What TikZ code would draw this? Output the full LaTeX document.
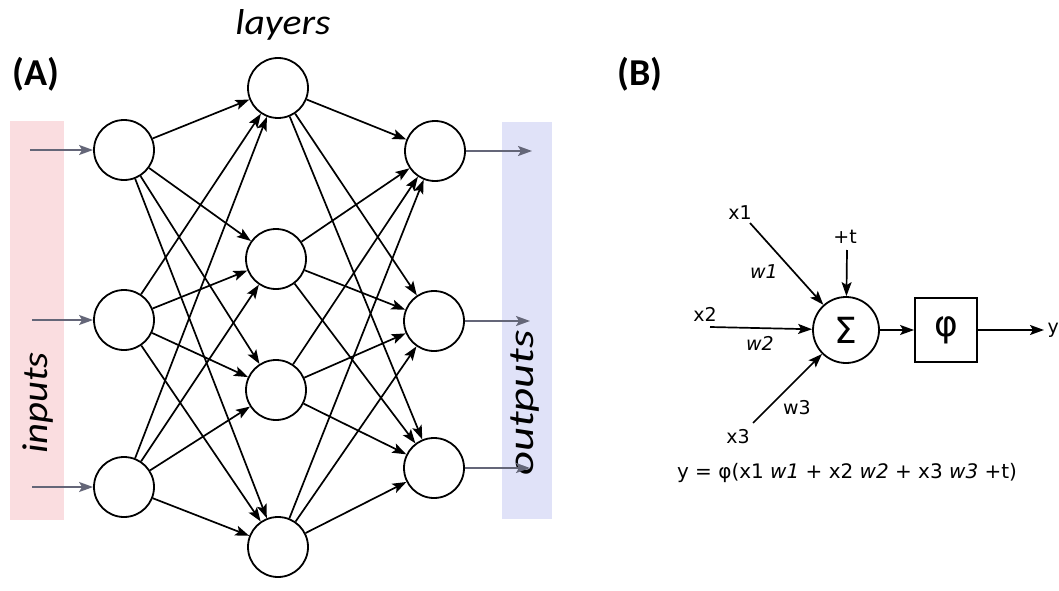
\documentclass[tikz,border=0pt]{standalone}
\usepackage{fontspec}
\setmainfont{DejaVu Sans}
\newfontfamily\labelfont{Carlito}
\usetikzlibrary{arrows.meta}
\definecolor{inbar}{RGB}{250,221,224}
\definecolor{outbar}{RGB}{224,226,248}
\definecolor{ioarrow}{RGB}{100,102,120}
\tikzset{
  neuron/.style={circle,draw,line width=1.8pt,minimum size=60pt,inner sep=0pt,fill=white},
  link/.style={line width=1.7pt,-{Stealth[length=14pt,width=10pt,inset=3pt]}},
  iolink/.style={line width=1.7pt,color=ioarrow,-{Stealth[length=14pt,width=10pt,inset=3pt]}},
  paneltag/.style={font=\labelfont\bfseries\fontsize{38}{42}\selectfont},
  barlabel/.style={font=\labelfont\itshape\fontsize{36}{40}\selectfont},
  blabel/.style={font=\fontsize{19}{22}\selectfont},
  wlabel/.style={font=\itshape\fontsize{19}{22}\selectfont},
}
\begin{document}
\begin{tikzpicture}[x=1pt,y=-1pt]
\useasboundingbox (0,0) rectangle (1059,591);

% background bars for the input and output sides
\fill[inbar] (10,121) rectangle (64,520);
\fill[outbar] (502,122) rectangle (552,519);

% panel tags and captions
\node[paneltag] (tagA) at (36,74) {(A)};
\node[paneltag] (tagB) at (640,74) {(B)};
\node[barlabel] (lay) at (283,25) {\scalebox{1.1}[1]{layers}};
\node[barlabel,rotate=90] (inlab) at (38,403) {\scalebox{1.13}[1]{inputs}};
\node[barlabel,rotate=90] (outlab) at (525,403) {\scalebox{1.3}[1]{outputs}};

% neurons
\node[neuron] (a1) at (124,150) {};
\node[neuron] (a2) at (124,320) {};
\node[neuron] (a3) at (124,487) {};
\node[neuron] (b1) at (278,88) {};
\node[neuron] (b2) at (276,259) {};
\node[neuron] (b3) at (276,390) {};
\node[neuron] (b4) at (278,547) {};
\node[neuron] (c1) at (435,151) {};
\node[neuron] (c2) at (434,321) {};
\node[neuron] (c3) at (434,468) {};

% free ends of the input and output arrows
\coordinate (i1) at (30,150);
\coordinate (i2) at (32,320);
\coordinate (i3) at (32,487);
\coordinate (o1) at (532,151);
\coordinate (o2) at (530,321);
\coordinate (o3) at (530,468);

\foreach \k in {1,2,3} {
  \draw[iolink] (i\k) -- (a\k);
  \draw[iolink] (c\k) -- (o\k);
}
\foreach \i in {1,2,3} \foreach \j in {1,2,3,4}
  \draw[link] (a\i) -- (b\j);
\foreach \j in {1,2,3,4} \foreach \k in {1,2,3}
  \draw[link] (b\j) -- (c\k);

% single neuron model
\node[circle,draw,line width=1.8pt,minimum size=66pt,inner sep=0pt,
      font=\fontsize{36}{40}\selectfont] (sum) at (846,330) {Σ};
\node[draw,line width=1.8pt,minimum width=62pt,minimum height=64pt,inner sep=0pt,
      font=\fontsize{36}{40}\selectfont] (phi) at (946,330) {φ};
\node[blabel] (x1) at (740,213) {x1};
\node[blabel] (x2) at (705,314) {x2};
\node[blabel] (x3) at (738,437) {x3};
\node[blabel] (tt) at (845,237) {+t};
\node[blabel,anchor=west] (yout) at (1044,330) {y};
\coordinate (x1s) at (750,223);
\coordinate (x2s) at (710,327);
\coordinate (x3s) at (753,423);
\coordinate (tts) at (847,250);
\node[wlabel] (w1) at (764,272) {w1};
\node[wlabel] (w2) at (760,343) {w2};
\node[blabel] (w3) at (797,408) {w3};
\draw[link] (x1s) -- (sum);
\draw[link] (x2s) -- (sum);
\draw[link] (x3s) -- (sum);
\draw[link] (tts) -- (sum);
\draw[link] (sum) -- (phi);
\draw[link] (phi) -- (yout.west);
\node[font=\fontsize{20}{24}\selectfont] (eq) at (847,473)
  {y = φ(x1 \textit{w1} + x2 \textit{w2} + x3 \textit{w3} +t)};
\end{tikzpicture}
\end{document}
